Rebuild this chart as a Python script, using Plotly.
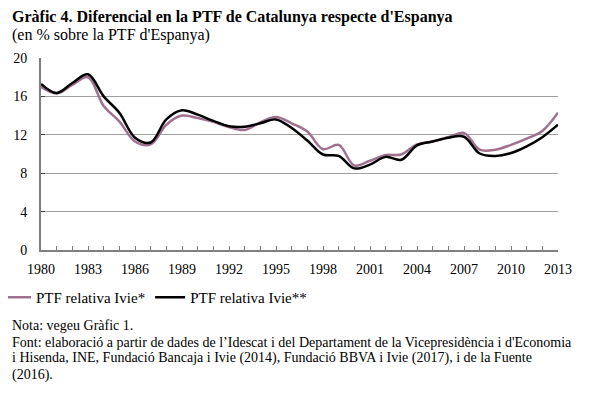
import plotly.graph_objects as go

years = list(range(1980, 2014))

ptf_ivie_1 = [17.0, 16.3, 17.2, 18.0, 15.0, 13.4, 11.3, 11.0, 13.05, 14.0,
              13.75, 13.35, 12.8, 12.5, 13.3, 13.85, 13.2, 12.35, 10.5, 10.95,
              8.8, 9.3, 9.9, 9.95, 11.0, 11.3, 11.75, 12.2, 10.45, 10.45,
              10.95, 11.6, 12.4, 14.3]

ptf_ivie_2 = [17.3, 16.35, 17.4, 18.3, 16.0, 14.3, 11.7, 11.2, 13.6, 14.55,
              14.1, 13.45, 12.9, 12.85, 13.2, 13.6, 12.7, 11.4, 9.95, 9.8,
              8.5, 8.9, 9.7, 9.4, 10.9, 11.3, 11.7, 11.8, 10.05, 9.8,
              10.1, 10.8, 11.75, 13.05]

series_names = ["PTF relativa Ivie*", "PTF relativa Ivie**"]
series_colors = ["#a0708f", "#000000"]

title_text = "Gràfic 4. Diferencial en la PTF de Catalunya respecte d'Espanya"
subtitle_text = "(en % sobre la PTF d'Espanya)"
note_lines = [
    "Nota: vegeu Gràfic 1.",
    "Font: elaboració a partir de dades de l’Idescat i del Departament de la Vicepresidència i d'Economia",
    "i Hisenda, INE, Fundació Bancaja i Ivie (2014), Fundació BBVA i Ivie (2017), i de la Fuente",
    "(2016).",
]

x_tick_vals = list(range(1980, 2014, 3))
y_tick_vals = [0, 4, 8, 12, 16, 20]

FONT = "Liberation Serif"

fig = go.Figure()
for vals, name, color in zip([ptf_ivie_1, ptf_ivie_2], series_names, series_colors):
    fig.add_trace(go.Scatter(
        x=years, y=vals, name=name, mode="lines",
        line=dict(color=color, width=2.5, shape="spline", smoothing=1.0),
    ))

# page has an 8px body margin; compensate so the plot lands where the reference has it
OFF = 8
W, H = 598 - OFF, 400 - OFF
L, R, T, B = 41 - OFF, 40, 58 - OFF, 150
pw, ph = W - L - R, H - T - B

def px_to_paper_y(py):
    return (H - B - (py - OFF)) / ph

def px_to_paper_x(px):
    return (px - OFF - L) / pw

fig.update_layout(
    width=W, height=H,
    margin=dict(l=L, r=R, t=T, b=B, autoexpand=False),
    paper_bgcolor="white", plot_bgcolor="white",
    font=dict(family=FONT, size=14, color="black"),
    showlegend=True,
    legend=dict(
        orientation="h", x=px_to_paper_x(-4), y=px_to_paper_y(281),
        xanchor="left", yanchor="top",
        font=dict(family=FONT, size=15, color="black"),
        itemwidth=30, tracegroupgap=0, bgcolor="rgba(0,0,0,0)",
    ),
    xaxis=dict(
        range=[1980, 2013], tickmode="array", tickvals=x_tick_vals,
        ticktext=[str(v) for v in x_tick_vals],
        ticks="inside", ticklen=4, tickcolor="#808080", tickwidth=1,
        minor=dict(dtick=1, ticks="inside", ticklen=4, tickcolor="#808080", tickwidth=1, showgrid=False),
        showline=True, linecolor="#808080", linewidth=2,
        showgrid=False, zeroline=False, ticklabelstandoff=5,
        tickfont=dict(family=FONT, size=14, color="black"),
    ),
    yaxis=dict(
        range=[0, 20], tickmode="array", tickvals=y_tick_vals,
        ticks="inside", ticklen=4, tickcolor="#404040", tickwidth=1,
        showline=True, linecolor="#808080", linewidth=2,
        showgrid=True, gridcolor="#a0a0a0", gridwidth=1,
        zeroline=False, ticklabelstandoff=9,
        tickfont=dict(family=FONT, size=14, color="black"),
    ),
)

fig.add_annotation(
    xref="paper", yref="paper", x=px_to_paper_x(10), y=px_to_paper_y(17),
    xanchor="left", yanchor="middle", showarrow=False,
    text="<b>" + title_text + "</b>",
    font=dict(family=FONT, size=16, color="black"),
)
fig.add_annotation(
    xref="paper", yref="paper", x=px_to_paper_x(10), y=px_to_paper_y(35),
    xanchor="left", yanchor="middle", showarrow=False,
    text=subtitle_text,
    font=dict(family=FONT, size=16, color="black"),
)
note_y = [325, 342, 358, 375]
for line, yy in zip(note_lines, note_y):
    fig.add_annotation(
        xref="paper", yref="paper", x=px_to_paper_x(10), y=px_to_paper_y(yy),
        xanchor="left", yanchor="middle", showarrow=False, align="left",
        text=line,
        font=dict(family=FONT, size=14, color="black"),
    )

fig.write_html("out.html")
